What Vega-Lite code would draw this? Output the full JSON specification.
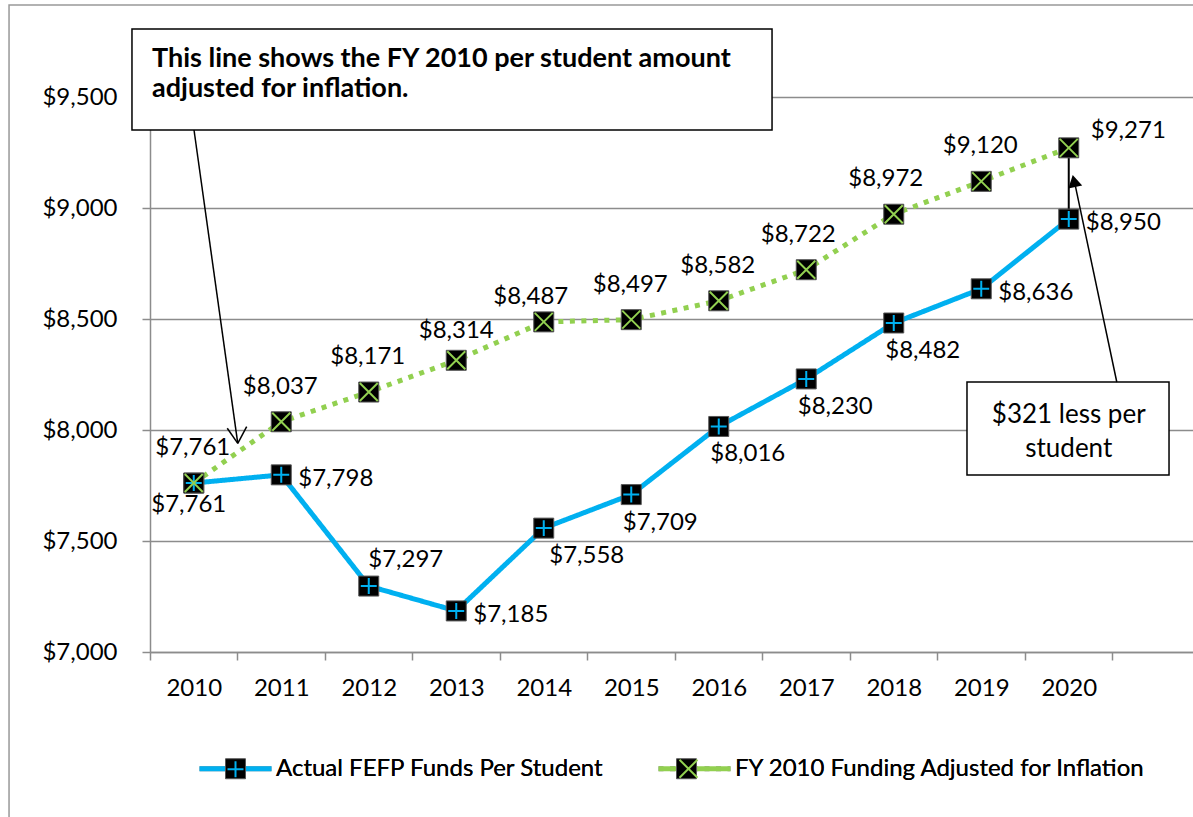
{
  "$schema": "https://vega.github.io/schema/vega-lite/v6.json",
  "width": 1043,
  "height": 555,
  "autosize": {"type": "none"},
  "padding": {"left": 150, "top": 97, "right": 0, "bottom": 165},
  "background": "white",
  "config": {
    "view": {"stroke": null},
    "font": "Lato",
    "axis": {"labelFont": "Lato", "labelFontSize": 24, "labelColor": "#000", "domainColor": "#8c8c8c", "domainWidth": 1.5, "tickColor": "#8c8c8c", "tickWidth": 1.5, "tickSize": 8, "title": null}
  },
  "data": {
    "values": [
      {"series": "Actual FEFP Funds Per Student", "year": 2010, "value": 7761},
      {"series": "Actual FEFP Funds Per Student", "year": 2011, "value": 7798},
      {"series": "Actual FEFP Funds Per Student", "year": 2012, "value": 7297},
      {"series": "Actual FEFP Funds Per Student", "year": 2013, "value": 7185},
      {"series": "Actual FEFP Funds Per Student", "year": 2014, "value": 7558},
      {"series": "Actual FEFP Funds Per Student", "year": 2015, "value": 7709},
      {"series": "Actual FEFP Funds Per Student", "year": 2016, "value": 8016},
      {"series": "Actual FEFP Funds Per Student", "year": 2017, "value": 8230},
      {"series": "Actual FEFP Funds Per Student", "year": 2018, "value": 8482},
      {"series": "Actual FEFP Funds Per Student", "year": 2019, "value": 8636},
      {"series": "Actual FEFP Funds Per Student", "year": 2020, "value": 8950},
      {"series": "FY 2010 Funding Adjusted for Inflation", "year": 2010, "value": 7761},
      {"series": "FY 2010 Funding Adjusted for Inflation", "year": 2011, "value": 8037},
      {"series": "FY 2010 Funding Adjusted for Inflation", "year": 2012, "value": 8171},
      {"series": "FY 2010 Funding Adjusted for Inflation", "year": 2013, "value": 8314},
      {"series": "FY 2010 Funding Adjusted for Inflation", "year": 2014, "value": 8487},
      {"series": "FY 2010 Funding Adjusted for Inflation", "year": 2015, "value": 8497},
      {"series": "FY 2010 Funding Adjusted for Inflation", "year": 2016, "value": 8582},
      {"series": "FY 2010 Funding Adjusted for Inflation", "year": 2017, "value": 8722},
      {"series": "FY 2010 Funding Adjusted for Inflation", "year": 2018, "value": 8972},
      {"series": "FY 2010 Funding Adjusted for Inflation", "year": 2019, "value": 9120},
      {"series": "FY 2010 Funding Adjusted for Inflation", "year": 2020, "value": 9271}
    ]
  },
  "resolve": {"scale": {"color": "independent", "shape": "independent"}, "legend": {"color": "independent", "shape": "independent"}},
  "layer": [
    {
      "data": {"values": [{}]},
      "mark": {"type": "rect", "fill": null, "stroke": "#999999", "strokeWidth": 1.5},
      "encoding": {
        "x": {"datum": 2007.889, "type": "quantitative"},
        "x2": {"datum": 2022.5},
        "y": {"datum": 9914.4, "type": "quantitative"},
        "y2": {"datum": 6150}
      }
    },
    {
      "mark": {"type": "line", "strokeWidth": 5},
      "encoding": {
        "x": {"field": "year", "type": "quantitative", "scale": {"domain": [2009.5, 2021.42], "nice": false, "zero": false},
          "axis": {"values": [2010, 2011, 2012, 2013, 2014, 2015, 2016, 2017, 2018, 2019, 2020, 2021], "format": "d", "labelExpr": "datum.value > 2020 ? '' : datum.label", "tickOffset": -43.75, "labelOffset": 43.75, "labelPadding": 16, "grid": false}},
        "y": {"field": "value", "type": "quantitative", "scale": {"domain": [7000, 9500], "nice": false, "zero": false},
          "axis": {"values": [7000, 7500, 8000, 8500, 9000, 9500], "format": "$,.0f", "grid": true, "gridColor": "#8c8c8c", "gridWidth": 1.5, "labelPadding": 25}},
        "color": {"field": "series", "type": "nominal",
          "scale": {"domain": ["Actual FEFP Funds Per Student", "FY 2010 Funding Adjusted for Inflation"], "range": ["#00B0F0", "#92D050"]},
          "legend": {"orient": "none", "legendX": 47, "legendY": 633, "direction": "horizontal", "padding": 0, "title": null, "symbolType": "stroke", "symbolSize": 5184, "symbolStrokeWidth": 5, "labelFont": "Lato", "labelFontSize": 24, "labelColor": "#000", "labelOffset": 2, "columnPadding": 44, "labelLimit": 600}},
        "strokeDash": {"field": "series", "type": "nominal",
          "scale": {"domain": ["Actual FEFP Funds Per Student", "FY 2010 Funding Adjusted for Inflation"], "range": [[1, 0], [5, 6.5]]},
          "legend": {"orient": "none", "legendX": 47, "legendY": 633, "direction": "horizontal", "padding": 0, "title": null, "symbolType": "stroke", "symbolSize": 5184, "symbolStrokeWidth": 5, "labelFont": "Lato", "labelFontSize": 24, "labelColor": "#000", "labelOffset": 2, "columnPadding": 44, "labelLimit": 600}}
      }
    },
    {
      "data": {"values": [{}]},
      "mark": {"type": "rule", "stroke": "#000", "strokeWidth": 2},
      "encoding": {
        "x": {"datum": 2020, "type": "quantitative"},
        "y": {"datum": 9271, "type": "quantitative"},
        "y2": {"datum": 8950}
      }
    },
    {
      "mark": {"type": "point", "filled": true, "opacity": 1, "size": 5776, "shape": "M-1,0M1,0M-0.263,-0.263H0.263V0.263H-0.263Z", "stroke": "#555555", "strokeWidth": 1},
      "encoding": {
        "x": {"field": "year", "type": "quantitative"},
        "y": {"field": "value", "type": "quantitative"},
        "color": {"field": "series", "type": "nominal",
          "scale": {"domain": ["Actual FEFP Funds Per Student", "FY 2010 Funding Adjusted for Inflation"], "range": ["#000000", "#000000"]},
          "legend": {"orient": "none", "legendX": 47, "legendY": 633, "direction": "horizontal", "padding": 0, "title": null, "symbolType": "M-1,0M1,0M-0.263,-0.263H0.263V0.263H-0.263Z", "symbolSize": 5776, "symbolStrokeColor": "#555555", "symbolStrokeWidth": 1, "labelFont": "Lato", "labelFontSize": 24, "labelExpr": "''", "labelOffset": 2, "columnPadding": 370, "labelLimit": 600}}
      }
    },
    {
      "mark": {"type": "point", "filled": false, "opacity": 1, "size": 5625, "strokeWidth": 2},
      "encoding": {
        "x": {"field": "year", "type": "quantitative"},
        "y": {"field": "value", "type": "quantitative"},
        "color": {"field": "series", "type": "nominal",
          "scale": {"domain": ["Actual FEFP Funds Per Student", "FY 2010 Funding Adjusted for Inflation"], "range": ["#00B0F0", "#92D050"]},
          "legend": {"orient": "none", "legendX": 47, "legendY": 633, "direction": "horizontal", "padding": 0, "title": null, "symbolSize": 5625, "symbolStrokeWidth": 2, "labelFont": "Lato", "labelFontSize": 24, "labelExpr": "''", "labelOffset": 2, "columnPadding": 370, "labelLimit": 600}},
        "shape": {"field": "series", "type": "nominal",
          "scale": {"domain": ["Actual FEFP Funds Per Student", "FY 2010 Funding Adjusted for Inflation"], "range": ["M-1,0M1,0M-0.213,0H0.213M0,-0.213V0.213", "M-1,0M1,0M-0.24,-0.24L0.24,0.24M-0.24,0.24L0.24,-0.24"]},
          "legend": {"orient": "none", "legendX": 47, "legendY": 633, "direction": "horizontal", "padding": 0, "title": null, "symbolSize": 5625, "symbolStrokeWidth": 2, "labelFont": "Lato", "labelFontSize": 24, "labelExpr": "''", "labelOffset": 2, "columnPadding": 370, "labelLimit": 600}}
      }
    },
    {
      "transform": [{"filter": {"and": [{"field": "series", "equal": "Actual FEFP Funds Per Student"}, {"field": "year", "oneOf": [2015, 2016, 2017, 2018]}]}}],
      "mark": {"type": "text", "font": "Lato", "fontSize": 24, "color": "#000", "dx": 29, "dy": 28, "baseline": "middle"},
      "encoding": {"x": {"field": "year", "type": "quantitative"}, "y": {"field": "value", "type": "quantitative"}, "text": {"field": "value", "type": "quantitative", "format": "$,.0f"}}
    },
    {
      "transform": [{"filter": {"and": [{"field": "series", "equal": "Actual FEFP Funds Per Student"}, {"field": "year", "equal": 2014}]}}],
      "mark": {"type": "text", "font": "Lato", "fontSize": 24, "color": "#000", "dx": 43, "dy": 28, "baseline": "middle"},
      "encoding": {"x": {"field": "year", "type": "quantitative"}, "y": {"field": "value", "type": "quantitative"}, "text": {"field": "value", "type": "quantitative", "format": "$,.0f"}}
    },
    {
      "transform": [{"filter": {"and": [{"field": "series", "equal": "Actual FEFP Funds Per Student"}, {"field": "year", "oneOf": [2011, 2013, 2019, 2020]}]}}],
      "mark": {"type": "text", "font": "Lato", "fontSize": 24, "color": "#000", "align": "left", "dx": 17, "dy": 4, "baseline": "middle"},
      "encoding": {"x": {"field": "year", "type": "quantitative"}, "y": {"field": "value", "type": "quantitative"}, "text": {"field": "value", "type": "quantitative", "format": "$,.0f"}}
    },
    {
      "transform": [{"filter": {"and": [{"field": "series", "equal": "Actual FEFP Funds Per Student"}, {"field": "year", "equal": 2010}]}}],
      "mark": {"type": "text", "font": "Lato", "fontSize": 24, "color": "#000", "dx": -5, "dy": 22, "baseline": "middle"},
      "encoding": {"x": {"field": "year", "type": "quantitative"}, "y": {"field": "value", "type": "quantitative"}, "text": {"field": "value", "type": "quantitative", "format": "$,.0f"}}
    },
    {
      "transform": [{"filter": {"and": [{"field": "series", "equal": "Actual FEFP Funds Per Student"}, {"field": "year", "equal": 2012}]}}],
      "mark": {"type": "text", "font": "Lato", "fontSize": 24, "color": "#000", "dx": 37, "dy": -26, "baseline": "middle"},
      "encoding": {"x": {"field": "year", "type": "quantitative"}, "y": {"field": "value", "type": "quantitative"}, "text": {"field": "value", "type": "quantitative", "format": "$,.0f"}}
    },
    {
      "transform": [{"filter": {"and": [{"field": "series", "equal": "FY 2010 Funding Adjusted for Inflation"}, {"field": "year", "oneOf": [2010, 2011, 2012, 2015, 2016, 2019]}]}}],
      "mark": {"type": "text", "font": "Lato", "fontSize": 24, "color": "#000", "dx": -1, "dy": -35, "baseline": "middle"},
      "encoding": {"x": {"field": "year", "type": "quantitative"}, "y": {"field": "value", "type": "quantitative"}, "text": {"field": "value", "type": "quantitative", "format": "$,.0f"}}
    },
    {
      "transform": [{"filter": {"and": [{"field": "series", "equal": "FY 2010 Funding Adjusted for Inflation"}, {"field": "year", "oneOf": [2017, 2018]}]}}],
      "mark": {"type": "text", "font": "Lato", "fontSize": 24, "color": "#000", "dx": -8, "dy": -35, "baseline": "middle"},
      "encoding": {"x": {"field": "year", "type": "quantitative"}, "y": {"field": "value", "type": "quantitative"}, "text": {"field": "value", "type": "quantitative", "format": "$,.0f"}}
    },
    {
      "transform": [{"filter": {"and": [{"field": "series", "equal": "FY 2010 Funding Adjusted for Inflation"}, {"field": "year", "equal": 2013}]}}],
      "mark": {"type": "text", "font": "Lato", "fontSize": 24, "color": "#000", "dx": 0, "dy": -29, "baseline": "middle"},
      "encoding": {"x": {"field": "year", "type": "quantitative"}, "y": {"field": "value", "type": "quantitative"}, "text": {"field": "value", "type": "quantitative", "format": "$,.0f"}}
    },
    {
      "transform": [{"filter": {"and": [{"field": "series", "equal": "FY 2010 Funding Adjusted for Inflation"}, {"field": "year", "equal": 2014}]}}],
      "mark": {"type": "text", "font": "Lato", "fontSize": 24, "color": "#000", "dx": -13, "dy": -25, "baseline": "middle"},
      "encoding": {"x": {"field": "year", "type": "quantitative"}, "y": {"field": "value", "type": "quantitative"}, "text": {"field": "value", "type": "quantitative", "format": "$,.0f"}}
    },
    {
      "transform": [{"filter": {"and": [{"field": "series", "equal": "FY 2010 Funding Adjusted for Inflation"}, {"field": "year", "equal": 2020}]}}],
      "mark": {"type": "text", "font": "Lato", "fontSize": 24, "color": "#000", "align": "left", "dx": 22, "dy": -17, "baseline": "middle"},
      "encoding": {"x": {"field": "year", "type": "quantitative"}, "y": {"field": "value", "type": "quantitative"}, "text": {"field": "value", "type": "quantitative", "format": "$,.0f"}}
    },
    {
      "data": {"values": [{}]},
      "mark": {"type": "rect", "fill": "white", "stroke": "#000", "strokeWidth": 1.5},
      "encoding": {
        "x": {"datum": 2009.294, "type": "quantitative"},
        "x2": {"datum": 2016.609},
        "y": {"datum": 9806, "type": "quantitative"},
        "y2": {"datum": 9351.4}
      }
    },
    {
      "data": {"values": [{}]},
      "mark": {"type": "text", "text": ["This line shows the FY 2010 per student amount", "adjusted for inflation."], "align": "left", "baseline": "alphabetic", "lineHeight": 30, "font": "Lato", "fontSize": 27, "fontWeight": "bold", "color": "#000"},
      "encoding": {
        "x": {"datum": 2009.523, "type": "quantitative"},
        "y": {"datum": 9635, "type": "quantitative"}
      }
    },
    {
      "data": {"values": [{}]},
      "mark": {"type": "rule", "stroke": "#000", "strokeWidth": 1.5},
      "encoding": {
        "x": {"datum": 2010.003, "type": "quantitative"},
        "y": {"datum": 9351.4, "type": "quantitative"},
        "x2": {"datum": 2010.503},
        "y2": {"datum": 7940}
      }
    },
    {
      "data": {"values": [{}]},
      "mark": {"type": "rule", "stroke": "#000", "strokeWidth": 1.5},
      "encoding": {
        "x": {"datum": 2010.383, "type": "quantitative"},
        "y": {"datum": 8008, "type": "quantitative"},
        "x2": {"datum": 2010.503},
        "y2": {"datum": 7940}
      }
    },
    {
      "data": {"values": [{}]},
      "mark": {"type": "rule", "stroke": "#000", "strokeWidth": 1.5},
      "encoding": {
        "x": {"datum": 2010.605, "type": "quantitative"},
        "y": {"datum": 8015, "type": "quantitative"},
        "x2": {"datum": 2010.503},
        "y2": {"datum": 7940}
      }
    },
    {
      "data": {"values": [{}]},
      "mark": {"type": "rect", "fill": "white", "stroke": "#000", "strokeWidth": 1.5},
      "encoding": {
        "x": {"datum": 2018.837, "type": "quantitative"},
        "x2": {"datum": 2021.146},
        "y": {"datum": 8216.2, "type": "quantitative"},
        "y2": {"datum": 7797.3}
      }
    },
    {
      "data": {"values": [{}]},
      "mark": {"type": "text", "text": ["$321 less per", "student"], "align": "center", "baseline": "alphabetic", "lineHeight": 34, "font": "Lato", "fontSize": 26, "color": "#000"},
      "encoding": {
        "x": {"datum": 2020.0, "type": "quantitative"},
        "y": {"datum": 8031, "type": "quantitative"}
      }
    },
    {
      "data": {"values": [{}]},
      "mark": {"type": "rule", "stroke": "#000", "strokeWidth": 1.5},
      "encoding": {
        "x": {"datum": 2020.549, "type": "quantitative"},
        "y": {"datum": 8216.2, "type": "quantitative"},
        "x2": {"datum": 2020.07},
        "y2": {"datum": 9110}
      }
    },
    {
      "data": {"values": [{}]},
      "mark": {"type": "point", "shape": "triangle-up", "filled": true, "color": "#000", "opacity": 1, "size": 200, "angle": -12},
      "encoding": {
        "x": {"datum": 2020.06, "type": "quantitative"},
        "y": {"datum": 9121.6, "type": "quantitative"}
      }
    }
  ]
}
